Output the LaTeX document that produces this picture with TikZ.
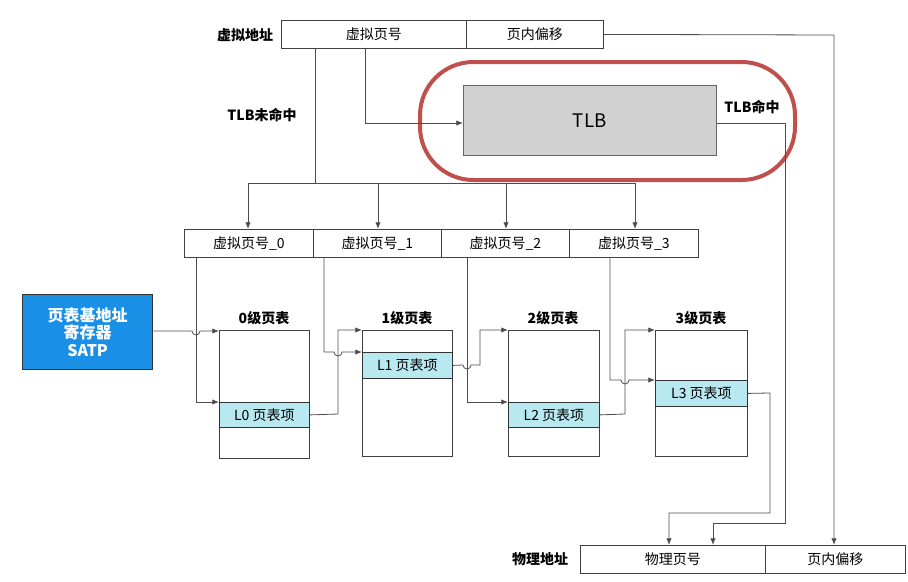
\documentclass[tikz,border=0pt]{standalone}
\usepackage{fontspec}
\setmainfont{Noto Sans CJK SC}
\usetikzlibrary{arrows.meta}
\definecolor{tlbred}{HTML}{C0504D}
\definecolor{entryc}{HTML}{B8E8F0}
\definecolor{satpc}{HTML}{1A8FE6}
\tikzset{
  cell/.style={draw=black!75, line width=0.6pt, minimum height=21pt, inner sep=0pt, font=\fontsize{10.5}{12}\selectfont},
  lbl/.style={font=\bfseries\fontsize{10.5}{12}\selectfont, inner sep=1pt},
  tbl/.style={draw=black!75, line width=0.6pt, fill=white},
  ent/.style={draw=black!80, line width=0.6pt, fill=entryc, font=\fontsize{10.5}{12}\selectfont},
  con/.style={draw=black!70, line width=0.6pt},
  arr/.style={con, -{Latex[length=5pt,width=4pt]}},
}
\begin{document}
\begin{tikzpicture}[x=0.75pt,y=-0.75pt]
\useasboundingbox (0,0) rectangle (908,582);
% virtual address
\node[cell, minimum width=185*0.75pt, anchor=north west] (vpn) at (281,20) {虚拟页号};
\node[cell, minimum width=137*0.75pt, anchor=north west] (voff) at (466,20) {页内偏移};
\node[lbl] (vlab) at (245,35) {虚拟地址};
% TLB
\node[draw=black!60, fill=black!18, minimum width=253*0.75pt, minimum height=70*0.75pt, anchor=north west, font=\fontsize{14}{16}\selectfont] (tlb) at (463,85) {TLB};
\node[draw=tlbred, line width=3pt, rounded corners=40pt, minimum width=375*0.75pt, minimum height=118*0.75pt, anchor=north west] (ring) at (418,60) {};
\node[lbl] (hit) at (752,107) {TLB命中};
\node[lbl] (miss) at (262,115) {TLB未命中};
% vpn row
\node[cell, minimum width=129*0.75pt, anchor=north west] (v0) at (184,229) {虚拟页号\_0};
\node[cell, minimum width=128*0.75pt, anchor=north west] (v1) at (313,229) {虚拟页号\_1};
\node[cell, minimum width=128*0.75pt, anchor=north west] (v2) at (441,229) {虚拟页号\_2};
\node[cell, minimum width=129*0.75pt, anchor=north west] (v3) at (569,229) {虚拟页号\_3};
% SATP
\node[draw=black!80, line width=1pt, fill=satpc, text=white, minimum width=130*0.75pt, minimum height=75*0.75pt, anchor=north west, align=center, font=\bfseries\fontsize{12}{13}\selectfont] (satp) at (22,294) {页表基地址\\寄存器\\SATP};
% tables
\node[tbl, minimum width=90*0.75pt, minimum height=128*0.75pt, anchor=north west] (t0) at (219,330) {};
\node[ent, minimum width=90*0.75pt, minimum height=25*0.75pt, anchor=north west] (e0) at (219,402) {L0 页表项};
\node[lbl, anchor=south] (l0) at (264,326) {0级页表};
\node[tbl, minimum width=90*0.75pt, minimum height=126*0.75pt, anchor=north west] (t1) at (362,330) {};
\node[ent, minimum width=90*0.75pt, minimum height=26*0.75pt, anchor=north west] (e1) at (362,352) {L1 页表项};
\node[lbl, anchor=south] (l1) at (407,326) {1级页表};
\node[tbl, minimum width=91*0.75pt, minimum height=126*0.75pt, anchor=north west] (t2) at (508,330) {};
\node[ent, minimum width=91*0.75pt, minimum height=25*0.75pt, anchor=north west] (e2) at (508,402) {L2 页表项};
\node[lbl, anchor=south] (l2) at (553,326) {2级页表};
\node[tbl, minimum width=92*0.75pt, minimum height=126*0.75pt, anchor=north west] (t3) at (655,330) {};
\node[ent, minimum width=92*0.75pt, minimum height=26*0.75pt, anchor=north west] (e3) at (655,380) {L3 页表项};
\node[lbl, anchor=south] (l3) at (701,326) {3级页表};
% physical address
\node[cell, minimum width=185*0.75pt, anchor=north west] (ppn) at (580,545) {物理页号};
\node[cell, minimum width=140*0.75pt, anchor=north west] (poff) at (765,545) {页内偏移};
\node[lbl] (plab) at (540,559) {物理地址};
% coordinates
\coordinate (c0) at (219,331);
\coordinate (c1) at (362,330);
\coordinate (c2) at (508,330);
\coordinate (c3) at (655,330);
% connectors top
\draw[arr] (vpn.south -| 365,0) -- (365,123) -- (tlb.west |- 0,123);
\draw[con] (vpn.south -| 315,0) -- (315,183);
\draw[con] (248,183) -- (635,183);
\draw[arr] (248,183) -- (v0.north -| 248,0);
\draw[arr] (378,183) -- (v1.north -| 378,0);
\draw[arr] (506,183) -- (v2.north -| 506,0);
\draw[arr] (635,183) -- (v3.north -| 635,0);
% SATP -> T0 with hop
\draw[arr] (satp.east |- 0,331) -- (192,331) arc(180:0:4) -- (c0);
\draw[arr] (v0.south -| 196,0) -- (196,402) -- (e0.north west);
% L0 -> T1
\draw[arr] (e0.east) -- (338,414) -- (338,330) -- (c1);
\draw[arr] (v1.south -| 324,0) -- (324,352) -- (334,352) arc(180:0:4) -- (e1.north west);
% L1 -> T2
\draw[arr] (e1.east) -- (463,365) arc(180:0:4) -- (480,365) -- (480,330) -- (c2);
\draw[arr] (v2.south -| 467,0) -- (467,402) -- (e2.north west);
% L2 -> T3
\draw[arr] (e2.east) -- (625,414) -- (625,330) -- (c3);
\draw[arr] (v3.south -| 610,0) -- (610,380) -- (621,380) arc(180:0:4) -- (e3.north west);
% outputs
\draw[arr] (e3.east) -- (770,393) -- (770,513) -- (669,513) -- (ppn.north -| 669,0);
\draw[arr] (tlb.east |- 0,123) -- (785,123) -- (785,523) -- (713,523) -- (ppn.north -| 713,0);
\draw[arr] (voff.east) -- (834,35) -- (poff.north -| 834,0);
\end{tikzpicture}
\end{document}
